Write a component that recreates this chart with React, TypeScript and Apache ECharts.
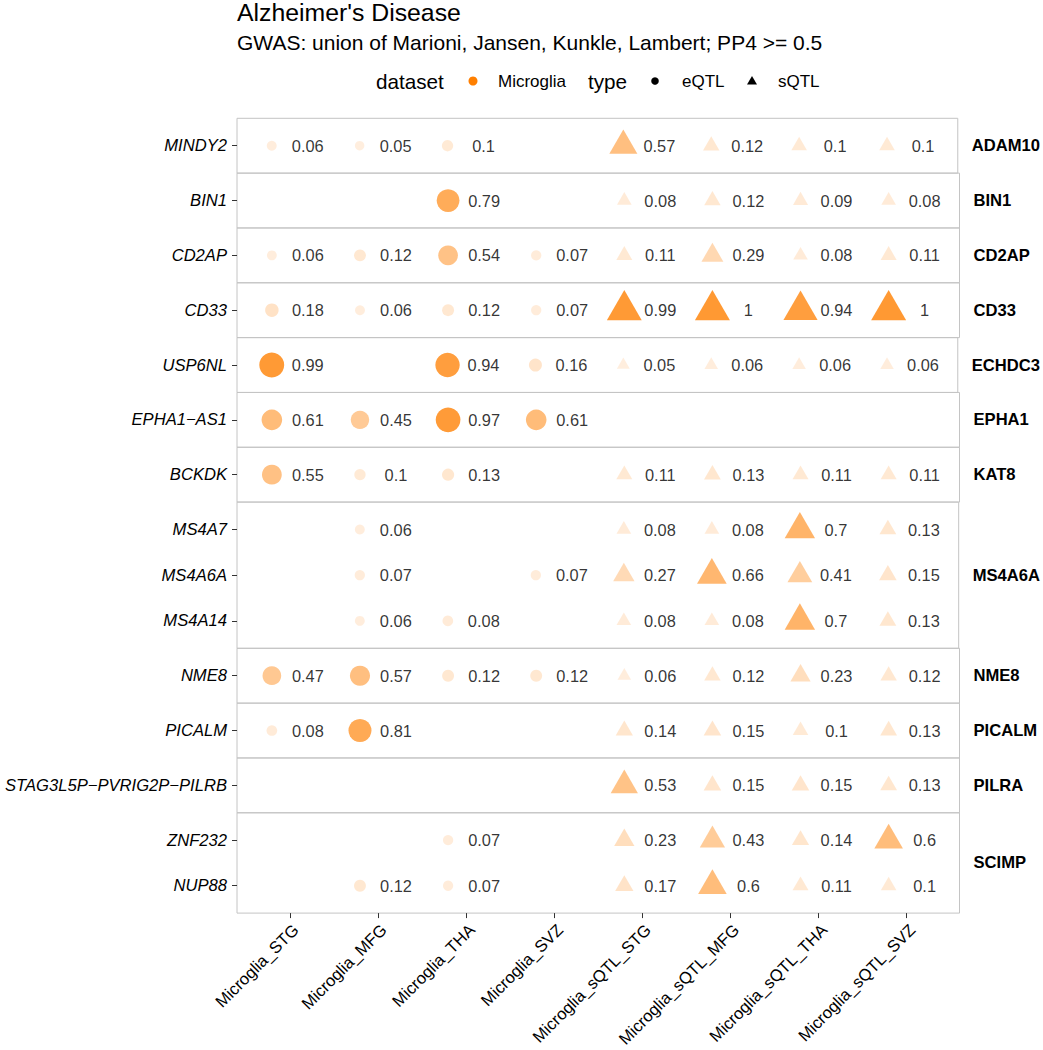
import React, { useEffect, useRef } from 'react';
import * as echarts from 'echarts';

const TITLE = "Alzheimer's Disease";
const SUBTITLE = 'GWAS: union of Marioni, Jansen, Kunkle, Lambert; PP4 >= 0.5';

const tissues = [
  'Microglia_STG', 'Microglia_MFG', 'Microglia_THA', 'Microglia_SVZ',
  'Microglia_sQTL_STG', 'Microglia_sQTL_MFG', 'Microglia_sQTL_THA', 'Microglia_sQTL_SVZ',
];
const qtlType = ['eQTL', 'eQTL', 'eQTL', 'eQTL', 'sQTL', 'sQTL', 'sQTL', 'sQTL'];

const genes = [
  'MINDY2', 'BIN1', 'CD2AP', 'CD33', 'USP6NL', 'EPHA1\u2212AS1', 'BCKDK',
  'MS4A7', 'MS4A6A', 'MS4A14', 'NME8', 'PICALM', 'STAG3L5P\u2212PVRIG2P\u2212PILRB', 'ZNF232', 'NUP88',
];
const geneLocus = [
  'ADAM10', 'BIN1', 'CD2AP', 'CD33', 'ECHDC3', 'EPHA1', 'KAT8',
  'MS4A6A', 'MS4A6A', 'MS4A6A', 'NME8', 'PICALM', 'PILRA', 'SCIMP', 'SCIMP',
];
const loci = ['ADAM10', 'BIN1', 'CD2AP', 'CD33', 'ECHDC3', 'EPHA1', 'KAT8', 'MS4A6A', 'NME8', 'PICALM', 'PILRA', 'SCIMP'];

const N = null;
// PP4 values per column, in gene order
const eqtlSTG = [0.06, N, 0.06, 0.18, 0.99, 0.61, 0.55, N, N, N, 0.47, 0.08, N, N, N];
const eqtlMFG = [0.05, N, 0.12, 0.06, N, 0.45, 0.1, 0.06, 0.07, 0.06, 0.57, 0.81, N, N, 0.12];
const eqtlTHA = [0.1, 0.79, 0.54, 0.12, 0.94, 0.97, 0.13, N, N, 0.08, 0.12, N, N, 0.07, 0.07];
const eqtlSVZ = [N, N, 0.07, 0.07, 0.16, 0.61, N, N, 0.07, N, 0.12, N, N, N, N];
const sqtlSTG = [0.57, 0.08, 0.11, 0.99, 0.05, N, 0.11, 0.08, 0.27, 0.08, 0.06, 0.14, 0.53, 0.23, 0.17];
const sqtlMFG = [0.12, 0.12, 0.29, 1, 0.06, N, 0.13, 0.08, 0.66, 0.08, 0.12, 0.15, 0.15, 0.43, 0.6];
const sqtlTHA = [0.1, 0.09, 0.08, 0.94, 0.06, N, 0.11, 0.7, 0.41, 0.7, 0.23, 0.1, 0.15, 0.14, 0.11];
const sqtlSVZ = [0.1, 0.08, 0.11, 1, 0.06, N, 0.11, 0.13, 0.15, 0.13, 0.12, 0.13, 0.13, 0.6, 0.1];
const columns = [eqtlSTG, eqtlMFG, eqtlTHA, eqtlSVZ, sqtlSTG, sqtlMFG, sqtlTHA, sqtlSVZ];

const FONT = '"Liberation Sans", Arial, Helvetica, sans-serif';
const PANEL_LEFT = 237;
const PANEL_WIDTH = 722.5;
const PANEL_TOP = 118.3;
const PANEL_HEIGHT = 795;
const BORDER = '#C4C4C4';
const TICK = '#333333';
const POINT_NUDGE = 18;

const alphaOf = (v: number) => Math.min(1, 0.12 + 0.88 * v);
const colorOf = (v: number) => `rgba(255,127,0,${alphaOf(v).toFixed(3)})`;
const circleSize = (v: number) => 5 + 20 * Math.sqrt(v);
const triWidth = (v: number) => 6.6 + 28.4 * Math.sqrt(v);

function buildOption() {
  const facets = loci.map((locus) => {
    const idx = genes.map((g, i) => i).filter((i) => geneLocus[i] === locus);
    return { locus, idx };
  });
  const totalUnits = facets.reduce((s, f) => s + f.idx.length + 0.2, 0);
  const unitPx = PANEL_HEIGHT / totalUnits;

  const grid: any[] = [];
  const xAxis: any[] = [];
  const yAxis: any[] = [];
  const series: any[] = [];
  const colIdx = tissues.map((_, i) => i);

  let cum = 0;
  facets.forEach((f, fi) => {
    const n = f.idx.length;
    const units = n + 0.2;
    const isLast = fi === facets.length - 1;
    grid.push({
      left: PANEL_LEFT,
      top: PANEL_TOP + cum * unitPx,
      width: PANEL_WIDTH,
      height: units * unitPx,
      show: true,
      borderColor: BORDER,
      borderWidth: 1,
      backgroundColor: 'transparent',
      containLabel: false,
    });
    cum += units;
    const rows = f.idx.map((_, j) => j);
    const facetGenes = f.idx.map((i) => genes[i]);

    xAxis.push({
      gridIndex: fi,
      type: 'value',
      min: -0.6,
      max: 7.6,
      show: isLast,
      position: 'bottom',
      axisLine: { show: false, onZero: false },
      splitLine: { show: false },
      axisTick: { show: true, customValues: colIdx, length: 5, lineStyle: { color: TICK, width: 1 } },
      axisLabel: {
        customValues: colIdx,
        formatter: (v: number) => tissues[Math.round(v)],
        rotate: 45,
        verticalAlign: 'top',
        fontSize: 16.6,
        color: '#000',
        fontFamily: FONT,
        margin: 8,
      },
    });
    yAxis.push({
      gridIndex: fi,
      type: 'value',
      position: 'left',
      inverse: true,
      min: -0.6,
      max: n - 0.4,
      axisLine: { show: false, onZero: false },
      splitLine: { show: false },
      axisTick: { show: true, customValues: rows, length: 5, lineStyle: { color: TICK, width: 1 } },
      axisLabel: {
        customValues: rows,
        formatter: (v: number) => facetGenes[Math.round(v)],
        fontStyle: 'italic',
        fontSize: 16.6,
        color: '#000',
        fontFamily: FONT,
        margin: 10,
      },
    });
    yAxis.push({
      gridIndex: fi,
      type: 'value',
      position: 'right',
      inverse: true,
      min: -0.6,
      max: n - 0.4,
      axisLine: { show: false, onZero: false },
      splitLine: { show: false },
      axisTick: { show: false },
      axisLabel: {
        customValues: [(n - 1) / 2],
        formatter: () => f.locus,
        fontWeight: 'bold',
        fontSize: 16.6,
        color: '#000',
        fontFamily: FONT,
        margin: 14,
      },
    });

    const eData: any[] = [];
    const sData: any[] = [];
    const lData: any[] = [];
    f.idx.forEach((gi, j) => {
      columns.forEach((col, c) => {
        const v = col[gi];
        if (v === null || v === undefined) return;
        lData.push({ value: [c, j, v] });
        if (qtlType[c] === 'eQTL') {
          const d = circleSize(v);
          eData.push({
            value: [c, j, v],
            symbolSize: d,
            symbolOffset: [-POINT_NUDGE, 0],
            itemStyle: { color: colorOf(v) },
          });
        } else {
          const w = triWidth(v);
          const h = w * 0.866;
          sData.push({
            value: [c, j, v],
            symbolSize: [w, h],
            symbolOffset: [-POINT_NUDGE, -h / 6],
            itemStyle: { color: colorOf(v) },
          });
        }
      });
    });
    series.push({
      type: 'scatter',
      name: 'eQTL',
      xAxisIndex: fi,
      yAxisIndex: 2 * fi,
      symbol: 'circle',
      silent: true,
      data: eData,
    });
    series.push({
      type: 'scatter',
      name: 'sQTL',
      xAxisIndex: fi,
      yAxisIndex: 2 * fi,
      symbol: 'triangle',
      silent: true,
      data: sData,
    });
    series.push({
      type: 'scatter',
      name: 'labels',
      xAxisIndex: fi,
      yAxisIndex: 2 * fi,
      symbol: 'circle',
      symbolSize: 1,
      silent: true,
      itemStyle: { color: 'rgba(0,0,0,0)' },
      label: {
        show: true,
        position: 'inside',
        offset: [POINT_NUDGE, 0],
        formatter: (p: any) => String(p.value[2]),
        color: '#000',
        fontSize: 16.4,
        fontFamily: FONT,
      },
      data: lData,
    });
  });

  const legendY = 81;
  const graphic: any[] = [
    { type: 'text', x: 376, y: legendY, style: { text: 'dataset', fontSize: 20.7, fontFamily: FONT, fill: '#000', verticalAlign: 'middle' } },
    { type: 'circle', shape: { cx: 473, cy: legendY, r: 4.5 }, style: { fill: 'rgb(255,127,0)' } },
    { type: 'text', x: 498, y: legendY, style: { text: 'Microglia', fontSize: 17, fontFamily: FONT, fill: '#000', verticalAlign: 'middle' } },
    { type: 'text', x: 588, y: legendY, style: { text: 'type', fontSize: 20.7, fontFamily: FONT, fill: '#000', verticalAlign: 'middle' } },
    { type: 'circle', shape: { cx: 655, cy: legendY, r: 3.8 }, style: { fill: '#000' } },
    { type: 'text', x: 682, y: legendY, style: { text: 'eQTL', fontSize: 17, fontFamily: FONT, fill: '#000', verticalAlign: 'middle' } },
    { type: 'polygon', shape: { points: [[747, legendY + 3.5], [757, legendY + 3.5], [752, legendY - 5]] }, style: { fill: '#000' } },
    { type: 'text', x: 778, y: legendY, style: { text: 'sQTL', fontSize: 17, fontFamily: FONT, fill: '#000', verticalAlign: 'middle' } },
  ];

  return {
    animation: false,
    backgroundColor: '#fff',
    textStyle: { fontFamily: FONT },
    title: [
      { text: TITLE, left: 237, top: 0, padding: 0, textStyle: { fontSize: 24.8, lineHeight: 24, fontWeight: 'normal', color: '#000', fontFamily: FONT } },
      { text: SUBTITLE, left: 237, top: 32, padding: 0, textStyle: { fontSize: 21, fontWeight: 'normal', color: '#000', fontFamily: FONT } },
    ],
    grid,
    xAxis,
    yAxis,
    series,
    graphic,
  };
}

export default function App() {
  const ref = useRef<HTMLDivElement>(null);
  useEffect(() => {
    document.body.style.margin = '0';
    if (!ref.current) return;
    const chart = echarts.init(ref.current, undefined, { renderer: 'svg' });
    chart.setOption(buildOption());
    return () => chart.dispose();
  }, []);
  return <div ref={ref} style={{ width: 1043, height: 1050 }} />;
}
